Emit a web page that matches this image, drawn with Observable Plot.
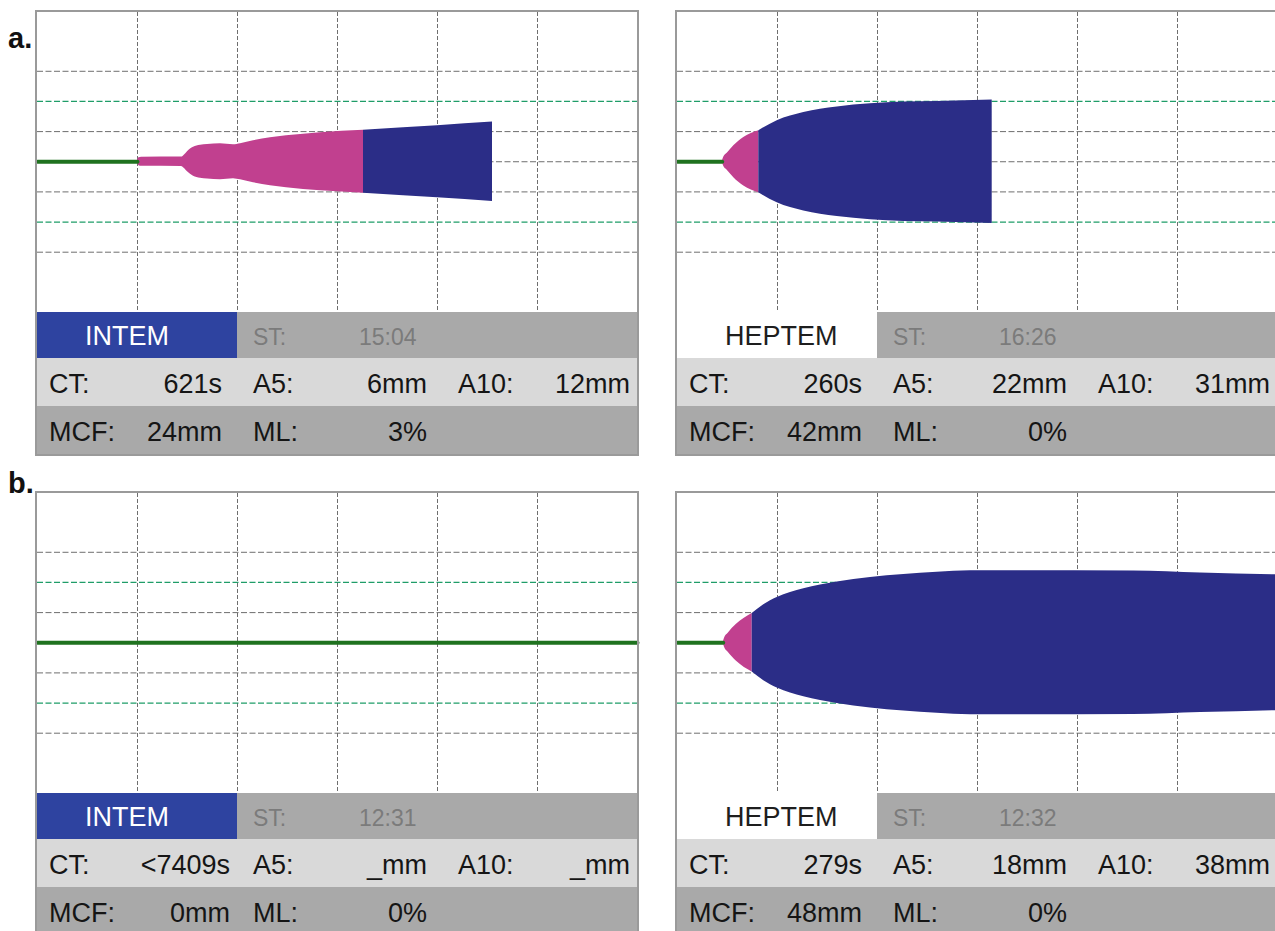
<!DOCTYPE html>
<html>
<head>
<meta charset="utf-8">
<script src="https://cdn.jsdelivr.net/npm/d3@7"></script>
<script src="https://cdn.jsdelivr.net/npm/@observablehq/plot@0.6"></script>
<style>
  html, body { margin: 0; padding: 0; background: #fff; }
  #root { position: relative; width: 1275px; height: 931px; overflow: hidden; background: #fff;
          font-family: "Liberation Sans", Arial, Helvetica, sans-serif; }
  .lbl { position: absolute; font-family: "Liberation Sans", Arial, sans-serif; font-weight: bold;
         font-size: 29px; color: #111; line-height: 1; }
  .panel { position: absolute; width: 600px; outline: 2px solid #9a9a9a; background: #fff; }
  .panel svg { display: block; }
  .row { position: relative; width: 600px; }
  .row span { position: absolute; top: 2px; white-space: pre; }
  .r1 { height: 46px; background: #a9a9a9; }
  .r2 { height: 48px; background: #d9d9d9; }
  .r3 { height: 48px; background: #a9a9a9; }
  .name { position: absolute; left: 0; top: 0; width: 200px; height: 46px; }
  .big { font-size: 27px; color: #151515; }
  .st { font-size: 23px; color: #7b7b7b; }
</style>
</head>
<body>
<div id="root"></div>
<script>
// ---------------- data ----------------
// time in minutes (x), clot amplitude in mm (full width of the trace)
const panelLetters = ["a.", "b."];
const panelNames = ["INTEM", "HEPTEM", "INTEM", "HEPTEM"];
const stTimes = ["15:04", "16:26", "12:31", "12:32"];
const ctValues = ["621s", "260s", "<7409s", "279s"];
const a5Values = ["\u20076mm", "22mm", "_mm", "18mm"];
const a10Values = ["12mm", "31mm", "_mm", "38mm"];
const mcfValues = ["24mm", "42mm", "0mm", "48mm"];
const mlValues = ["3%", "0%", "0%", "0%"];

// grid ticks
const gridMinutes = [10, 20, 30, 40, 50];
const gridMmGray = [-30, -10, 0, 10, 30];
const gridMmGreen = [-20, 20];

// a. INTEM
const aIntemBaseT = [0, 10.0];
const aIntemPinkT = [10.0, 10.15, 10.4, 14.4, 14.7, 15.0, 15.6, 16.3, 17.0, 18.3, 19.6, 20.3, 21.6, 24.9, 28.3, 32.6];
const aIntemPinkA = [1.2, 2.6, 3.0, 3.1, 4.5, 6.7, 9.6, 11.0, 11.4, 11.9, 11.3, 12.0, 13.9, 17.2, 19.3, 20.9];
const aIntemBlueT = [32.6, 36.6, 40.0, 45.5];
const aIntemBlueA = [20.9, 22.6, 23.9, 26.3];

// a. HEPTEM
const aHeptemBaseT = [0, 4.47];
const aHeptemPinkT = [4.47, 4.62, 4.97, 5.63, 6.63, 8.13];
const aHeptemPinkA = [0, 3.0, 5.6, 10.6, 16.1, 20.6];
const aHeptemBlueT = [8.13, 9.97, 12.63, 15.97, 19.3, 22.63, 25.97, 31.47];
const aHeptemBlueA = [20.6, 27.2, 32.6, 36.3, 38.4, 39.6, 40.0, 40.9];

// b. INTEM (no clot)
const bIntemBaseT = [0, 60];

// b. HEPTEM
const bHeptemBaseT = [0, 4.57];
const bHeptemPinkT = [4.57, 4.7, 5.07, 5.9, 7.47];
const bHeptemPinkA = [0, 3.0, 6.3, 12.2, 19.4];
const bHeptemBlueT = [7.47, 8.63, 9.97, 12.63, 15.97, 19.3, 22.63, 25.97, 29.3, 32.3, 45.6, 52.3, 60];
const bHeptemBlueA = [19.4, 25.2, 30, 35.8, 40.3, 43.3, 45.3, 46.7, 47.7, 47.8, 47.6, 46.3, 45.0];

// ---------------- build ----------------
const zip = (ts, as) => ts.map((t, i) => ({t, a: as ? as[i] : 0}));
const traces = [
  {base: aIntemBaseT, pink: zip(aIntemPinkT, aIntemPinkA), blue: zip(aIntemBlueT, aIntemBlueA)},
  {base: aHeptemBaseT, pink: zip(aHeptemPinkT, aHeptemPinkA), blue: zip(aHeptemBlueT, aHeptemBlueA)},
  {base: bIntemBaseT, pink: [], blue: []},
  {base: bHeptemBaseT, pink: zip(bHeptemPinkT, bHeptemPinkA), blue: zip(bHeptemBlueT, bHeptemBlueA)}
];

const PINK = "#c1408f", NAVY = "#2b2d87", TRACE = "#1f721f";
const GRID = "#6e6e6e", GREEN_GRID = "#1f9d68";

function makePlot(tr) {
  return Plot.plot({
    width: 600, height: 300,
    marginTop: 0, marginBottom: 0, marginLeft: 0, marginRight: 0,
    x: {domain: [0, 60], axis: null},
    y: {domain: [-50, 49.5], axis: null},
    style: {background: "#fff", overflow: "visible"},
    marks: [
      Plot.ruleX(gridMinutes, {stroke: GRID, strokeWidth: 1, strokeDasharray: "4,2"}),
      Plot.ruleY(gridMmGray, {stroke: GRID, strokeWidth: 1, strokeDasharray: "6,2.5"}),
      Plot.ruleY(gridMmGreen, {stroke: GREEN_GRID, strokeWidth: 1.2, strokeDasharray: "6,2.5"}),
      Plot.areaY(tr.pink, {x: "t", y1: d => -d.a / 2, y2: d => d.a / 2, fill: PINK, curve: "monotone-x"}),
      Plot.areaY(tr.blue, {x: "t", y1: d => -d.a / 2, y2: d => d.a / 2, fill: NAVY, curve: "monotone-x"}),
      Plot.line(zip(tr.base), {x: "t", y: "a", stroke: TRACE, strokeWidth: 4})
    ]
  });
}

const root = document.getElementById("root");
const panelPos = [[37, 12], [677, 12], [37, 493], [677, 493]];
const ctRight = [185, 185, 193, 185];

panelLetters.forEach((l, i) => {
  const d = document.createElement("div");
  d.className = "lbl";
  d.textContent = l;
  d.style.left = "8px";
  d.style.top = (i === 0 ? 24 : 469) + "px";
  root.appendChild(d);
});

function span(cls, text, pos) {
  const s = document.createElement("span");
  s.className = cls;
  s.textContent = text;
  if (pos.left != null) s.style.left = pos.left + "px";
  if (pos.right != null) s.style.right = (600 - pos.right) + "px";
  s.style.lineHeight = pos.h + "px";
  return s;
}

traces.forEach((tr, i) => {
  const p = document.createElement("div");
  p.className = "panel";
  p.style.left = panelPos[i][0] + "px";
  p.style.top = panelPos[i][1] + "px";
  p.appendChild(makePlot(tr));

  const isIntem = panelNames[i] === "INTEM";
  // row 1
  const r1 = document.createElement("div");
  r1.className = "row r1";
  const nm = document.createElement("div");
  nm.className = "name";
  nm.style.background = isIntem ? "#2e43a0" : "#ffffff";
  const ns = span("big", panelNames[i], {left: 48, h: 44});
  ns.style.color = isIntem ? "#ffffff" : "#1e1e1e";
  nm.appendChild(ns);
  r1.appendChild(nm);
  r1.appendChild(span("st", "ST:", {left: 216, h: 46}));
  r1.appendChild(span("st", stTimes[i], {left: 322, h: 46}));
  p.appendChild(r1);
  // row 2
  const r2 = document.createElement("div");
  r2.className = "row r2";
  r2.appendChild(span("big", "CT:", {left: 12, h: 48}));
  r2.appendChild(span("big", ctValues[i], {right: ctRight[i], h: 48}));
  r2.appendChild(span("big", "A5:", {left: 216, h: 48}));
  r2.appendChild(span("big", a5Values[i], {right: 390, h: 48}));
  r2.appendChild(span("big", "A10:", {left: 421, h: 48}));
  r2.appendChild(span("big", a10Values[i], {right: 593, h: 48}));
  p.appendChild(r2);
  // row 3
  const r3 = document.createElement("div");
  r3.className = "row r3";
  r3.appendChild(span("big", "MCF:", {left: 12, h: 48}));
  r3.appendChild(span("big", mcfValues[i], {right: ctRight[i], h: 48}));
  r3.appendChild(span("big", "ML:", {left: 216, h: 48}));
  r3.appendChild(span("big", mlValues[i], {right: 390, h: 48}));
  p.appendChild(r3);

  root.appendChild(p);
});
</script>
</body>
</html>
